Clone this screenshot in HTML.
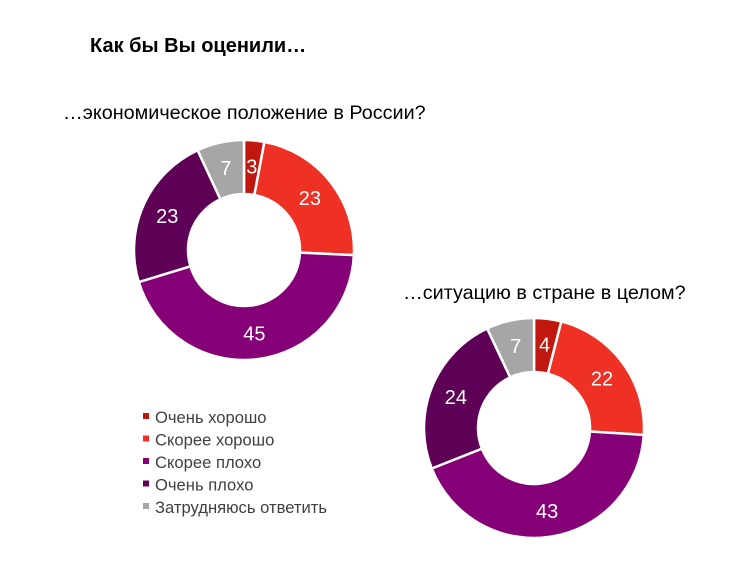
<!DOCTYPE html>
<html><head><meta charset="utf-8"><style>
body{margin:0;background:#fff;width:742px;height:574px;overflow:hidden;font-family:"Liberation Sans",sans-serif}
svg text{font-family:"Liberation Sans",sans-serif}
</style></head><body>
<svg id="c" width="742" height="574">
<text x="90" y="52" font-size="20" font-weight="bold" fill="#000">Как бы Вы оценили…</text>
<text x="63" y="119" font-size="19.8" fill="#000">…экономическое положение в России?</text>
<text x="403" y="299" font-size="19.8" fill="#000">…ситуацию в стране в целом?</text>
</svg>
<script>
const categories=["Очень хорошо","Скорее хорошо","Скорее плохо","Очень плохо","Затрудняюсь ответить"];
const colors=["#c0180f","#ee3124","#850076","#5e0055","#a6a6a6"];
const economyValues=[3,23,45,23,7];
const countryValues=[4,22,43,24,7];
const svg=document.getElementById('c');
const NS="http://www.w3.org/2000/svg";
function pt(cx,cy,r,a){return [cx+r*Math.sin(a),cy-r*Math.cos(a)];}
function donut(vals,cx,cy,R,r,name){
  const tot=vals.reduce((a,b)=>a+b,0);let a0=0;
  vals.forEach((v,i)=>{
    const a1=a0+v/tot*2*Math.PI;const lg=(a1-a0)>Math.PI?1:0;
    const [x1,y1]=pt(cx,cy,R,a0),[x2,y2]=pt(cx,cy,R,a1),[x3,y3]=pt(cx,cy,r,a1),[x4,y4]=pt(cx,cy,r,a0);
    const p=document.createElementNS(NS,'path');
    p.setAttribute('d',`M${x1},${y1}A${R},${R} 0 ${lg} 1 ${x2},${y2}L${x3},${y3}A${r},${r} 0 ${lg} 0 ${x4},${y4}Z`);
    p.setAttribute('fill',colors[i]);p.setAttribute('stroke','#fff');p.setAttribute('stroke-width','2.5');
    
    
    svg.appendChild(p);
    const [lx,ly]=pt(cx,cy,(R+r)/2+1,(a0+a1)/2);
    const t=document.createElementNS(NS,'text');
    t.setAttribute('x',lx);t.setAttribute('y',ly+7);t.setAttribute('text-anchor','middle');
    t.setAttribute('font-size','20');t.setAttribute('fill','#fff');t.textContent=v;
    
    
    svg.appendChild(t);
    a0=a1;
  });
}
donut(economyValues,244,250,110,56,'economy');
donut(countryValues,534,428,110,56,'country');
categories.forEach((c,i)=>{
  const y=418+i*22.5;
  const s=document.createElementNS(NS,'rect');
  s.setAttribute('x',143);s.setAttribute('y',y-5);s.setAttribute('width',6);s.setAttribute('height',6);s.setAttribute('fill',colors[i]);
  
  
  svg.appendChild(s);
  const t=document.createElementNS(NS,'text');
  t.setAttribute('x',155);t.setAttribute('y',y+5);t.setAttribute('font-size','16.6');t.setAttribute('fill','#404040');t.textContent=c;
  
  
  svg.appendChild(t);
});
</script>
</body></html>
